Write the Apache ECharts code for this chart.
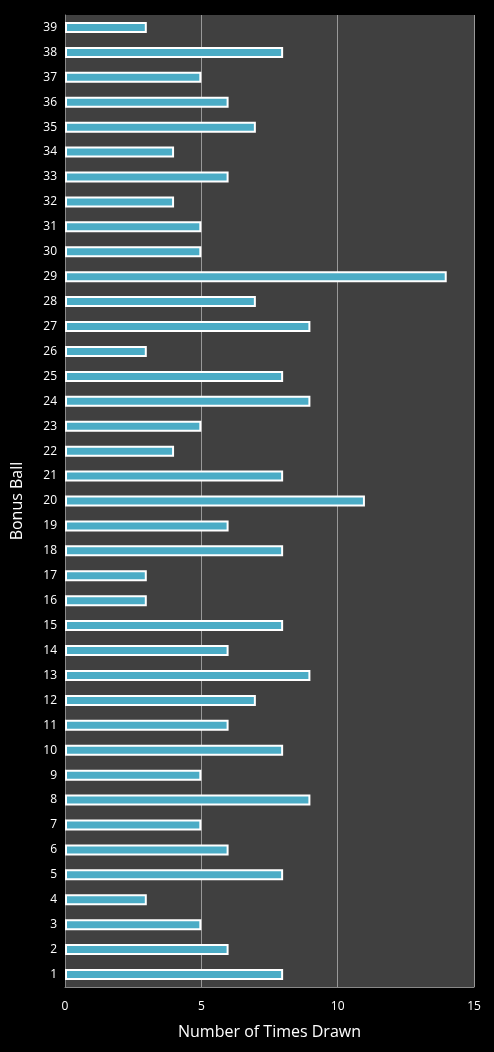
<!DOCTYPE html>
<html><head><meta charset="utf-8">
<script src="https://cdn.jsdelivr.net/npm/echarts@6/dist/echarts.min.js"></script>
<style>html,body{margin:0;background:#000;}#c{width:494px;height:1052px;}</style>
</head><body><div id="c"></div>
<script>
const categories = Array.from({length:39},(_,i)=>String(i+1));
const timesDrawn = [8,6,5,3,8,6,5,9,5,8,6,7,9,6,8,3,3,8,6,11,8,4,5,9,8,3,9,7,14,5,5,4,6,4,7,6,5,8,3];
const xTicks = [0,5,10,15];
const chart = echarts.init(document.getElementById('c'));
chart.setOption({
  backgroundColor:'#000',
  animation:false,
  grid:{left:65,right:20,top:15,bottom:65,backgroundColor:'#404040',show:true,borderWidth:0},
  xAxis:{type:'value',min:xTicks[0],max:xTicks[3],interval:5,
    name:'Number of Times Drawn',nameLocation:'middle',nameGap:37,
    nameTextStyle:{color:'#fff',fontSize:16,fontFamily:'Open Sans'},
    axisLabel:{color:'#fff',fontSize:12,margin:14,fontFamily:'Open Sans'},
    splitLine:{lineStyle:{color:'#999',width:1}},
    axisLine:{show:true,lineStyle:{color:'#888'}},axisTick:{show:false}},
  yAxis:{type:'category',data:categories,
    name:'Bonus Ball',nameLocation:'middle',nameGap:40,nameRotate:90,
    nameTextStyle:{color:'#fff',fontSize:16,fontFamily:'Open Sans'},
    axisLabel:{color:'#fff',fontSize:12,fontFamily:'Open Sans',interval:0},
    axisLine:{show:true,lineStyle:{color:'#888'}},axisTick:{show:false}},
  series:[{type:'bar',data:timesDrawn,barWidth:11,
    itemStyle:{color:'#4bacc6',borderColor:'#fff',borderWidth:2}}]
});
</script></body></html>
